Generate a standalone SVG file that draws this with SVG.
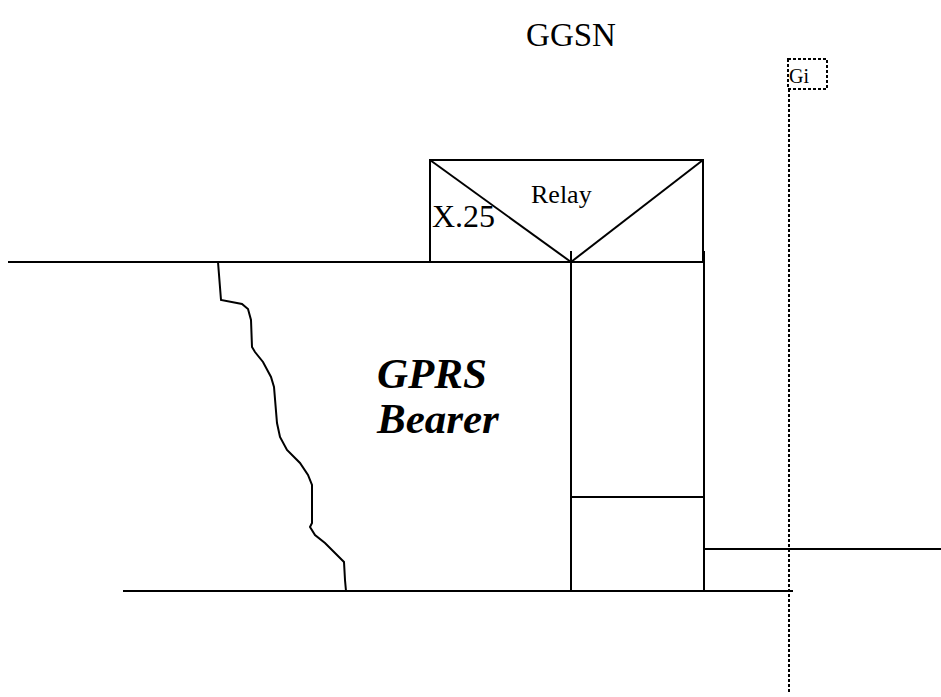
<svg xmlns="http://www.w3.org/2000/svg" width="941" height="697" viewBox="0 0 941 697">
<style>
.l{stroke:#000;stroke-width:2;fill:none}
.d{stroke:#000;stroke-width:2;fill:none;stroke-dasharray:3 2}
.t{font-family:"Liberation Serif",serif;fill:#000}
.b{font-size:43px;font-weight:bold;font-style:italic}
</style>
<rect width="941" height="697" fill="#fff"/>
<text class="t" x="571" y="46" font-size="33" text-anchor="middle">GGSN</text>
<g id="gi">
<line class="d" x1="789" y1="89" x2="789" y2="692"/>
<rect class="d" x="788" y="59" width="39" height="30"/>
<text class="t" x="789" y="83" font-size="20">Gi</text>
</g>
<g id="relay">
<rect class="l" x="430" y="160" width="273" height="102"/>
<line class="l" x1="430" y1="160" x2="571" y2="262"/>
<line class="l" x1="703" y1="160" x2="571" y2="262"/>
<text class="t" x="531" y="203" font-size="26">Relay</text>
<text class="t" x="432" y="227" font-size="32">X.25</text>
</g>
<g id="bearer">
<line class="l" x1="8" y1="262" x2="705" y2="262"/>
<line class="l" x1="123" y1="591" x2="793" y2="591"/>
<line class="l" x1="571" y1="251" x2="571" y2="591"/>
<line class="l" x1="704" y1="251" x2="704" y2="591"/>
<line class="l" x1="571" y1="497" x2="704" y2="497"/>
<line class="l" x1="704" y1="549" x2="941" y2="549"/>
<polyline class="l" points="218,262 221,300 242,304 248,309 251,320 252,347 255,352 263,362 271,377 274,387 277,423 280,437 287,450 300,463 308,475 312,485 312,523 310,527 315,535 325,543 335,553 344,562 345,580 346,591"/>
<text class="t b" x="377" y="388">GPRS</text>
<text class="t b" x="377" y="433">Bearer</text>
</g>
</svg>
